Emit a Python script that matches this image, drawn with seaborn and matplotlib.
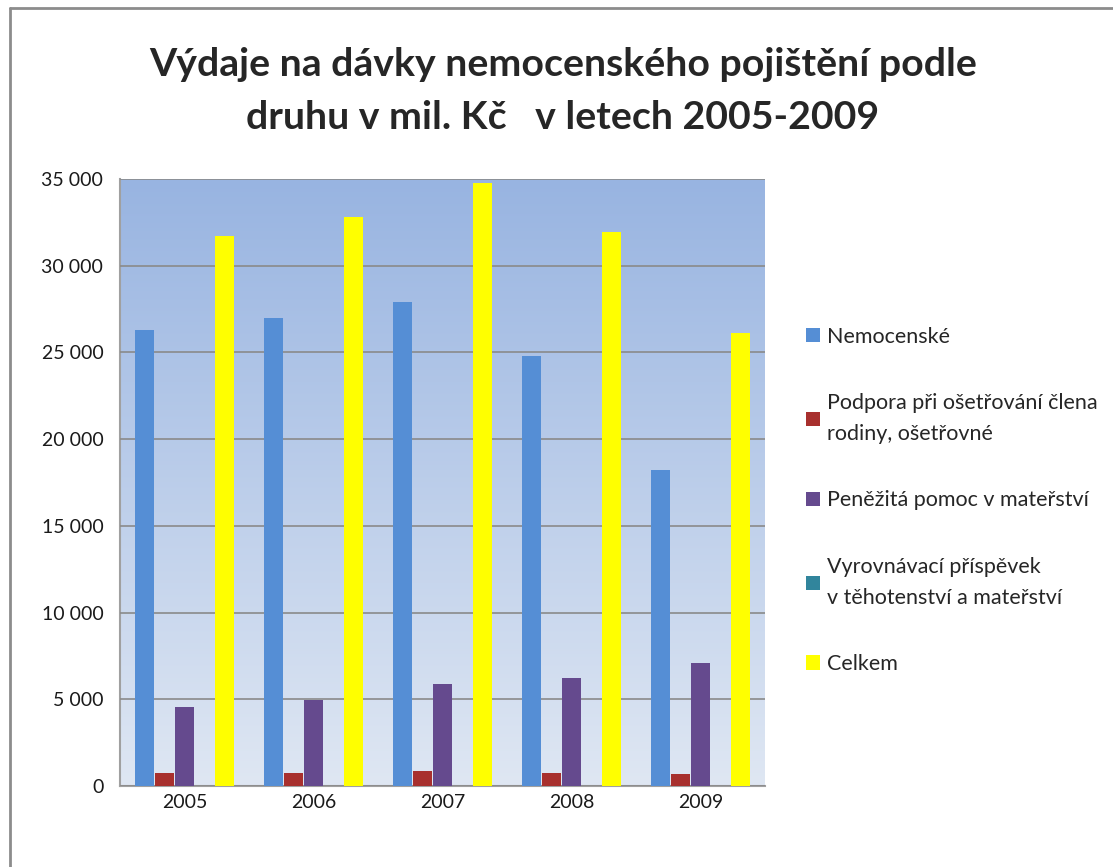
import numpy as np
import pandas as pd
import matplotlib
matplotlib.use('Agg')
import matplotlib.pyplot as plt
import matplotlib.colors as mcolors
from matplotlib.lines import Line2D
from matplotlib.ticker import FuncFormatter
import seaborn as sns

# hodnoty (mil. Kč)
roky = ['2005', '2006', '2007', '2008', '2009']
nemocenske = [26300, 27000, 27900, 24800, 18200]
podpora = [770, 770, 850, 770, 690]
penezita = [4540, 4980, 5880, 6250, 7080]
vyrovnavaci = [4, 4, 4, 4, 4]
celkem = [31720, 32830, 34760, 31950, 26100]

druhy = ['Nemocenské',
         'Podpora při ošetřování člena\nrodiny, ošetřovné',
         'Peněžitá pomoc v mateřství',
         'Vyrovnávací příspěvek\nv těhotenství a mateřství',
         'Celkem']
barvy = ['#558ED5', '#A8302E', '#654A8E', '#31859C', '#FFFF00']

rows = []
for druh, hodnoty in zip(druhy, [nemocenske, podpora, penezita, vyrovnavaci, celkem]):
    for rok, h in zip(roky, hodnoty):
        rows.append({'rok': rok, 'druh': druh, 'hodnota': h})
df = pd.DataFrame(rows)

sns.set_style('white')
plt.rcParams['font.family'] = ['Lato', 'DejaVu Sans']

fig = plt.figure(figsize=(11.13, 8.67), dpi=100)
ax = fig.add_axes([120 / 1113, 1 - 786 / 867, 645 / 1113, 607 / 867])

# modrý gradient pozadí grafu
grad = np.linspace(0, 1, 256).reshape(-1, 1)
cmap = mcolors.LinearSegmentedColormap.from_list('bg', ['#98B4E1', '#DFE7F3'])
ax.imshow(grad, aspect='auto', cmap=cmap, extent=[0, 1, 0, 1],
          transform=ax.transAxes, zorder=0)

sns.barplot(data=df, x='rok', y='hodnota', hue='druh', palette=barvy, saturation=1,
            width=0.78, gap=0.08, ax=ax, zorder=3, linewidth=0)

ax.set_ylim(0, 35000)
ax.set_yticks(range(0, 35001, 5000))
ax.yaxis.set_major_formatter(FuncFormatter(lambda v, p: f'{int(v):,}'.replace(',', ' ')))
ax.grid(axis='y', color='#8A8A8A', linewidth=1.2, zorder=1)
ax.set_axisbelow(False)
for sp in ['top', 'right']:
    ax.spines[sp].set_visible(False)
for sp in ['left', 'bottom']:
    ax.spines[sp].set_color('#A0A0A0')
    ax.spines[sp].set_linewidth(1.5)
ax.set_xlabel('')
ax.set_ylabel('')
ax.tick_params(axis='y', labelsize=14, pad=12, length=0, colors='#1A1A1A')
ax.tick_params(axis='x', labelsize=14, pad=6, length=0, colors='#1A1A1A')

handles, labels = ax.get_legend_handles_labels()
ax.legend_.remove()
leg = fig.legend(handles, labels, loc='upper left', bbox_to_anchor=(797 / 1113, 1 - 318 / 867),
                 frameon=False, fontsize=15.5, handlelength=0.65, handleheight=0.65,
                 handletextpad=0.35, labelspacing=2.15, borderaxespad=0)
for t in leg.get_texts():
    t.set_linespacing(1.7)

fig.text(563 / 1113, 1 - 91 / 867,
         'Výdaje na dávky nemocenského pojištění podle\ndruhu v mil. Kč   v letech 2005-2009',
         ha='center', va='center', fontsize=28.3, fontweight='bold', linespacing=1.65)

# rámeček grafu
fig.add_artist(Line2D([10 / 1113, 10 / 1113], [0, 1 - 8 / 867], color='#8C8C8C', lw=2))
fig.add_artist(Line2D([10 / 1113, 1], [1 - 8 / 867, 1 - 8 / 867], color='#8C8C8C', lw=2))

fig.savefig('out.png', dpi=100)
